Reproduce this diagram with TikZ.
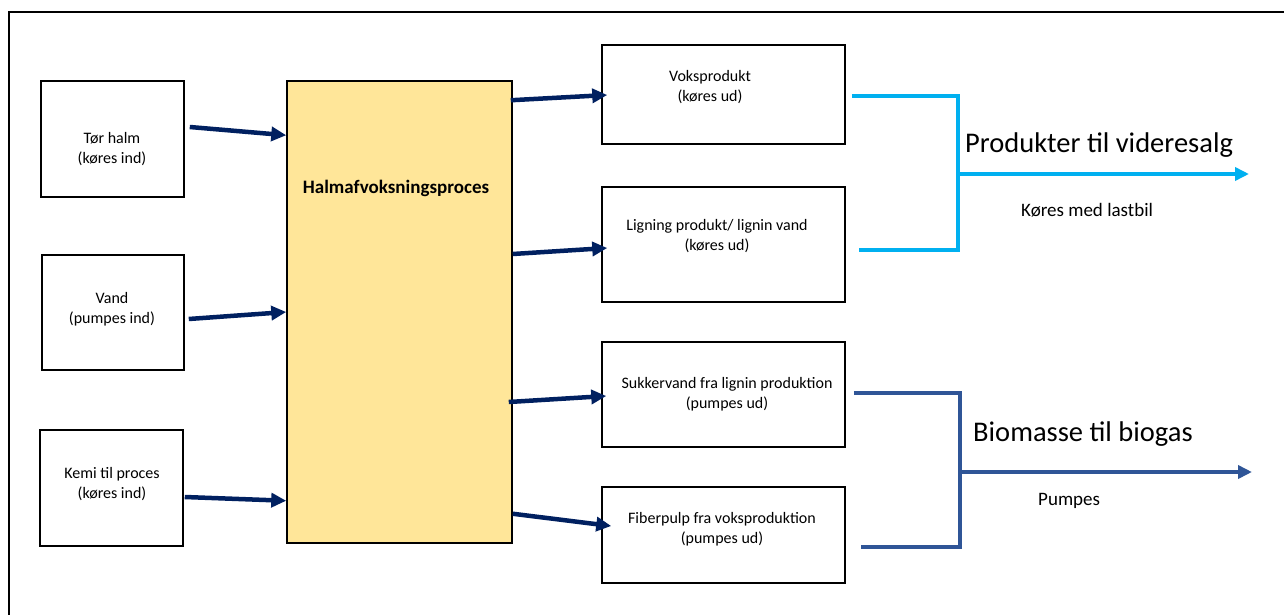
\documentclass[tikz,border=0pt]{standalone}
\usepackage{fontspec}
\setmainfont{Carlito}
\usetikzlibrary{arrows.meta}
\definecolor{navy}{HTML}{002060}
\definecolor{skyb}{HTML}{00B0F0}
\definecolor{darkb}{HTML}{2F5597}
\definecolor{yellowfill}{HTML}{FFE699}
\tikzset{
  box/.style={draw=black, line width=1.5pt, fill=white, inner sep=0pt},
  procbox/.style={draw=black, line width=1.5pt, fill=yellowfill, inner sep=0pt},
  boxtext/.style={align=center, font=\fontsize{16}{19.5}\selectfont, inner sep=0pt},
  navyarrow/.style={draw=navy, line width=4.5pt, -{Triangle[length=15pt,width=14pt]}},
  bracketA/.style={draw=skyb, line width=4pt},
  bracketB/.style={draw=darkb, line width=4pt},
  title/.style={font=\fontsize{28.5}{33}\selectfont, inner sep=0pt, anchor=base west},
  sublabel/.style={font=\fontsize{19}{22}\selectfont, inner sep=0pt, anchor=base west},
}
\begin{document}
\begin{tikzpicture}[x=1pt,y=-1pt]
\useasboundingbox (0,0) rectangle (1284,615);
\fill[white] (0,0) rectangle (1284,615);
% outer frame (extends beyond right and bottom)
\draw[line width=1.5pt] (1300,12) -- (9,12) -- (9,630);

% input boxes
\node[box, minimum width=143pt, minimum height=116pt] (toer) at (112.5,139) {};
\node[box, minimum width=142pt, minimum height=115pt] (vand) at (113,312.5) {};
\node[box, minimum width=143pt, minimum height=116pt] (kemi) at (111.5,488) {};
\node[boxtext] (toer-t) at (112,149) {Tør halm\\(køres ind)};
\node[boxtext] (vand-t) at (112,309) {Vand\\(pumpes ind)};
\node[boxtext] (kemi-t) at (112,484) {Kemi til proces\\(køres ind)};

% process box
\node[procbox, minimum width=225pt, minimum height=462pt] (proc) at (399.5,312) {};
\node[font=\fontsize{19}{22}\selectfont\bfseries, inner sep=0pt, anchor=base] (proc-t) at (396,193) {Halmafvoksningsproces};

% output boxes
\node[box, minimum width=243pt, minimum height=99pt] (voks) at (723.5,94.5) {};
\node[box, minimum width=243pt, minimum height=115pt] (lign) at (723.5,244.5) {};
\node[box, minimum width=243pt, minimum height=105pt] (sukk) at (723.5,394.5) {};
\node[box, minimum width=243pt, minimum height=96pt] (fibr) at (723.5,535) {};
\node[boxtext] (voks-t) at (710,87) {Voksprodukt\\(køres ud)};
\node[boxtext] (lign-t) at (717,236) {Ligning produkt/ lignin vand\\(køres ud)};
\node[boxtext] (sukk-t) at (727,394) {Sukkervand fra lignin produktion\\(pumpes ud)};
\node[boxtext] (fibr-t) at (722,529) {Fiberpulp fra voksproduktion\\(pumpes ud)};

% input arrows
\draw[navyarrow] ([shift={(5,-12)}]toer.east) -- ([shift={(0,55)}]proc.north west);
\draw[navyarrow] ([shift={(4,6.5)}]vand.east) -- ([shift={(0,0)}]proc.west);
\draw[navyarrow] ([shift={(1,9)}]kemi.east) -- ([shift={(0,-43)}]proc.south west);

% output arrows
\draw[navyarrow] ([shift={(-2,20)}]proc.north east) -- ([shift={(6,0.5)}]voks.west);
\draw[navyarrow] ([shift={(0,-58)}]proc.east) -- ([shift={(6,3.5)}]lign.west);
\draw[navyarrow] ([shift={(-4,90)}]proc.east) -- ([shift={(5,1.5)}]sukk.west);
\draw[navyarrow] ([shift={(0,-30)}]proc.south east) -- ([shift={(10,-9)}]fibr.west);

% brackets
\coordinate (jA) at (958,174);
\coordinate (endA) at (1249,174);
\draw[bracketA] ([shift={(6,1.5)}]voks.east) -- (958,96) -- (958,250) -- ([shift={(13,5.5)}]lign.east);
\draw[bracketA, -{Triangle[length=14pt,width=13pt]}] (jA) -- (endA);

\coordinate (jB) at (960,472);
\coordinate (endB) at (1252,472);
\draw[bracketB] ([shift={(8,-1.5)}]sukk.east) -- (960,393) -- (960,547) -- ([shift={(15,12)}]fibr.east);
\draw[bracketB, -{Triangle[length=14pt,width=13pt]}] (jB) -- (endB);

% labels
\node[title] (tA) at (965,153) {Produkter til videresalg};
\node[sublabel] (sA) at (1021,216) {Køres med lastbil};
\node[title] (tB) at (973,441) {Biomasse til biogas};
\node[sublabel] (sB) at (1038,505) {Pumpes};
\end{tikzpicture}
\end{document}
